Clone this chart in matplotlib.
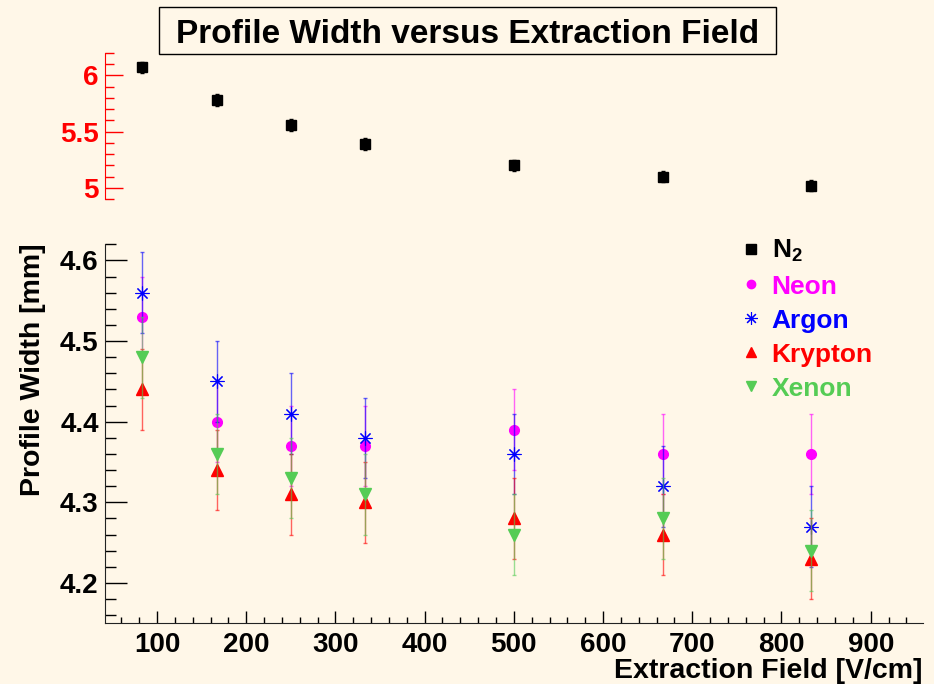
import numpy as np
import matplotlib.pyplot as plt
from matplotlib.ticker import MultipleLocator
from matplotlib.lines import Line2D
from matplotlib.patches import Rectangle

# Extraction field [V/cm]
field = [83.3, 166.7, 250.0, 333.3, 500.0, 666.7, 833.3]

# Profile widths [mm]
n2 = [6.07, 5.78, 5.56, 5.39, 5.20, 5.10, 5.02]
neon = [4.53, 4.40, 4.37, 4.37, 4.39, 4.36, 4.36]
argon = [4.56, 4.45, 4.41, 4.38, 4.36, 4.32, 4.27]
krypton = [4.44, 4.34, 4.31, 4.30, 4.28, 4.26, 4.23]
xenon = [4.48, 4.36, 4.33, 4.31, 4.26, 4.28, 4.24]
err = 0.05

bg = '#fff7e8'
green = '#55cc55'
plt.rcParams['font.family'] = ['Liberation Sans', 'DejaVu Sans']
plt.rcParams['font.weight'] = 'bold'
plt.rcParams['mathtext.fontset'] = 'custom'
plt.rcParams['mathtext.rm'] = 'Liberation Sans:bold'
plt.rcParams['mathtext.bf'] = 'Liberation Sans:bold'

W, H = 934, 684
fig = plt.figure(figsize=(W / 100, H / 100), dpi=100, facecolor=bg)

def frac_box(left, top, right, bottom):
    return [left / W, (H - bottom) / H, (right - left) / W, (bottom - top) / H]

xlim = (41.7, 958.3)

# lower panel: noble gases
ax = fig.add_axes(frac_box(105, 244.3, 922.7, 623.3), facecolor='none')
ax.set_xlim(*xlim)
ax.set_ylim(4.15, 4.62)
for s in ['top', 'right']:
    ax.spines[s].set_visible(False)
for s in ['left', 'bottom']:
    ax.spines[s].set_color('#222222')
ax.xaxis.set_major_locator(MultipleLocator(100))
ax.xaxis.set_minor_locator(MultipleLocator(20))
ax.yaxis.set_major_locator(MultipleLocator(0.1))
ax.yaxis.set_minor_locator(MultipleLocator(0.02))
ax.set_xticks(np.arange(100, 1000, 100))
ax.tick_params(axis='y', which='major', direction='in', length=15.8, width=1, pad=4.5, labelsize=20)
ax.tick_params(axis='y', which='minor', direction='in', length=7.9, width=1)
ax.tick_params(axis='x', which='major', direction='in', length=8.6, width=1, pad=6.5, labelsize=20)
ax.tick_params(axis='x', which='minor', direction='in', length=4.3, width=1)
for lab in ax.get_xticklabels() + ax.get_yticklabels():
    lab.set_fontweight('bold')

series = [
    ('Neon', neon, 'o', '#ff00ff', 7, 1),
    ('Argon', argon, (8, 2, 0), '#0000ff', 10, 0.8),
    ('Krypton', krypton, '^', '#ff0000', 8, 1),
    ('Xenon', xenon, 'v', green, 8, 1),
]
handles = []
for name, vals, mk, col, ms, mew in series:
    ax.errorbar(field, vals, yerr=err, fmt='none', ecolor=col, elinewidth=1,
                capsize=1.6, capthick=1, alpha=0.6)
    ax.plot(field, vals, linestyle='none', marker=mk, color=col, markersize=ms,
            markeredgewidth=mew)
    handles.append(Line2D([], [], linestyle='none', marker=mk, color=col,
                          markersize=ms - 1, markeredgewidth=mew, label=name))

# upper panel: N2
ax2 = fig.add_axes(frac_box(105, 52.7, 922.7, 199.3), facecolor='none')
ax2.set_xlim(*xlim)
ax2.set_ylim(4.9, 6.2)
for s in ['top', 'right', 'bottom']:
    ax2.spines[s].set_visible(False)
ax2.spines['left'].set_color('#ff0000')
ax2.set_xticks([])
ax2.yaxis.set_major_locator(MultipleLocator(0.5))
ax2.yaxis.set_minor_locator(MultipleLocator(0.1))
ax2.set_yticks([5, 5.5, 6])
ax2.set_yticklabels(['5', '5.5', '6'])
ax2.tick_params(axis='y', which='major', direction='in', length=12.6, width=1, pad=4.5,
                labelsize=20, color='#ff0000', labelcolor='#ff0000')
ax2.tick_params(axis='y', which='minor', direction='in', length=6.2, width=1, color='#ff0000')
for lab in ax2.get_yticklabels():
    lab.set_fontweight('bold')
ax2.errorbar(field, n2, yerr=err, fmt='none', ecolor='black', elinewidth=1,
             capsize=1.6, capthick=1)
ax2.plot(field, n2, linestyle='none', marker='s', color='black', markersize=7.2)
handles.insert(0, Line2D([], [], linestyle='none', marker='s', color='black',
                         markersize=6.5, label=r'N$_{2}$'))

leg = ax.legend(handles=handles, loc='upper left', bbox_to_anchor=(740 / W, (H - 238) / H),
                bbox_transform=fig.transFigure, frameon=False, borderpad=0, borderaxespad=0,
                handlelength=0.8, handletextpad=0.4, labelspacing=0.38,
                prop={'family': 'Liberation Sans', 'weight': 'bold', 'size': 19})
for txt, col in zip(leg.get_texts(), ['black'] + [s[3] for s in series]):
    txt.set_color(col)

# title box
fig.patches.append(Rectangle((159 / W, (H - 54) / H), 617 / W, 46.7 / H,
                             transform=fig.transFigure, facecolor='none',
                             edgecolor='black', linewidth=1))
fig.text(467.5 / W, (H - 43.3) / H, 'Profile Width versus Extraction Field',
         ha='center', va='baseline', fontsize=24, fontweight='bold')

# axis titles
fig.text(922 / W, (H - 678) / H, 'Extraction Field [V/cm]', ha='right', va='baseline',
         fontsize=20.5, fontweight='bold')
fig.text(33 / W, (H - 243) / H, 'Profile Width [mm]', rotation=90, ha='center', va='top',
         fontsize=20.5, fontweight='bold')

fig.savefig('out.png', dpi=100, facecolor=bg)
